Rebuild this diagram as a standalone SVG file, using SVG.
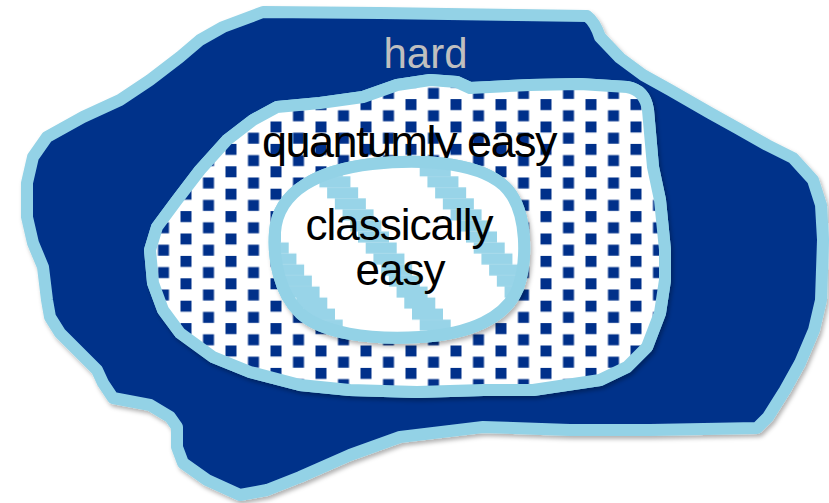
<svg xmlns="http://www.w3.org/2000/svg" width="829" height="503" viewBox="0 0 829 503">
  <defs>
    <filter id="shadow" x="-10%" y="-10%" width="120%" height="125%">
      <feDropShadow dx="2" dy="3" stdDeviation="2" flood-color="#000" flood-opacity="0.3"/>
    </filter>
    <pattern id="dots" patternUnits="userSpaceOnUse" x="0.5" y="9.5" width="45" height="22.4">
      <rect width="45" height="22.4" fill="#ffffff"/>
      <rect x="0" y="0" width="11" height="11" fill="#00308A"/>
      <rect x="22.5" y="11.2" width="11" height="11" fill="#00308A"/>
      <rect x="22.5" y="-11.2" width="11" height="11" fill="#00308A"/>
    </pattern>
    <pattern id="stripes" patternUnits="userSpaceOnUse" width="108" height="154.29">
      <rect width="108" height="154.29" fill="#ffffff"/>
      <g fill="#98D4E8">
        <rect x="88" y="0" width="31" height="11.1"/><rect x="-20" y="0" width="31" height="11.1"/>
        <rect x="95.71" y="11.02" width="31" height="11.1"/><rect x="-12.29" y="11.02" width="31" height="11.1"/>
        <rect x="103.43" y="22.04" width="31" height="11.1"/><rect x="-4.57" y="22.04" width="31" height="11.1"/>
        <rect x="3.14" y="33.06" width="31" height="11.1"/>
        <rect x="10.86" y="44.08" width="31" height="11.1"/>
        <rect x="18.57" y="55.10" width="31" height="11.1"/>
        <rect x="26.29" y="66.12" width="31" height="11.1"/>
        <rect x="34" y="77.14" width="31" height="11.1"/>
        <rect x="41.71" y="88.16" width="31" height="11.1"/>
        <rect x="49.43" y="99.18" width="31" height="11.1"/>
        <rect x="57.14" y="110.20" width="31" height="11.1"/>
        <rect x="64.86" y="121.22" width="31" height="11.1"/>
        <rect x="72.57" y="132.24" width="31" height="11.1"/>
        <rect x="80.29" y="143.26" width="31" height="11.1"/><rect x="-27.71" y="143.26" width="31" height="11.1"/>
      </g>
    </pattern>
  </defs>
  <style>
    .outline { stroke: #93D2E6; stroke-width: 12; stroke-linejoin: round; }
    .under { fill: #ffffff; }
    .lbl { font-family: "Liberation Sans", Arial, sans-serif; text-anchor: middle; }
  </style>

  <g id="hard">
    <path class="outline" fill="#00308A" filter="url(#shadow)" d="M263,12 L380,13 L587,16 Q595,22 600,37 L620,58 L643,75 L670,90 L710,113 L737,128 L767,145 L793,158 L813,180 L821,205 L823,240 L821,300 L814,330 L800,363 L785,390 L768,417 L757,428 L650,430 L570,430 L483,427 L400,437 L350,455 L300,477 L267,490 L240,495 L207,480 L183,463 L177,447 L177,427 L170,417 L150,405 L113,398 L103,383 L97,370 L77,350 L60,333 L50,317 L47,300 L43,267 L33,243 L27,217 L27,183 L33,157 L47,137 L83,117 L120,100 L150,80 L180,57 L200,40 L223,27 Z"/>
    <text class="lbl" x="425.5" y="68" font-size="42" fill="#BFBFBF">hard</text>
  </g>

  <g id="quantum">
    <path class="outline under" filter="url(#shadow)" d="M277,107 L320,103 L363,97 L397,85 L430,80 L457,82 L470,88 L530,85 L580,84 L627,87 Q645,90 648,110 L653,167 L660,200 L665,250 L665,280 L660,313 L647,347 L627,367 L600,380 L533,390 L483,390 L417,392 L350,390 L300,385 L250,372 L213,357 L180,333 L163,310 L153,283 L150,250 L157,227 L177,200 L200,170 L227,140 L253,120 Z"/>
    <path class="outline" fill="url(#dots)" d="M277,107 L320,103 L363,97 L397,85 L430,80 L457,82 L470,88 L530,85 L580,84 L627,87 Q645,90 648,110 L653,167 L660,200 L665,250 L665,280 L660,313 L647,347 L627,367 L600,380 L533,390 L483,390 L417,392 L350,390 L300,385 L250,372 L213,357 L180,333 L163,310 L153,283 L150,250 L157,227 L177,200 L200,170 L227,140 L253,120 Z"/>
    <text class="lbl" x="409" y="157" font-size="45" letter-spacing="-1.5" fill="#000000">quantumly easy</text>
  </g>

  <g id="classical">
    <path class="outline under" filter="url(#shadow)" d="M372,164 C425,158 485,163 508,190 C528,214 527,262 518,288 C506,318 470,334 420,337 C368,340 322,333 300,313 C279,293 273,258 275,232 C278,190 320,170 372,164 Z"/>
    <path class="outline" fill="url(#stripes)" d="M372,164 C425,158 485,163 508,190 C528,214 527,262 518,288 C506,318 470,334 420,337 C368,340 322,333 300,313 C279,293 273,258 275,232 C278,190 320,170 372,164 Z"/>
    <text class="lbl" x="399" y="240" font-size="44" letter-spacing="-1" fill="#000000">classically</text>
    <text class="lbl" x="400" y="285" font-size="44" letter-spacing="-1" fill="#000000">easy</text>
  </g>
</svg>
